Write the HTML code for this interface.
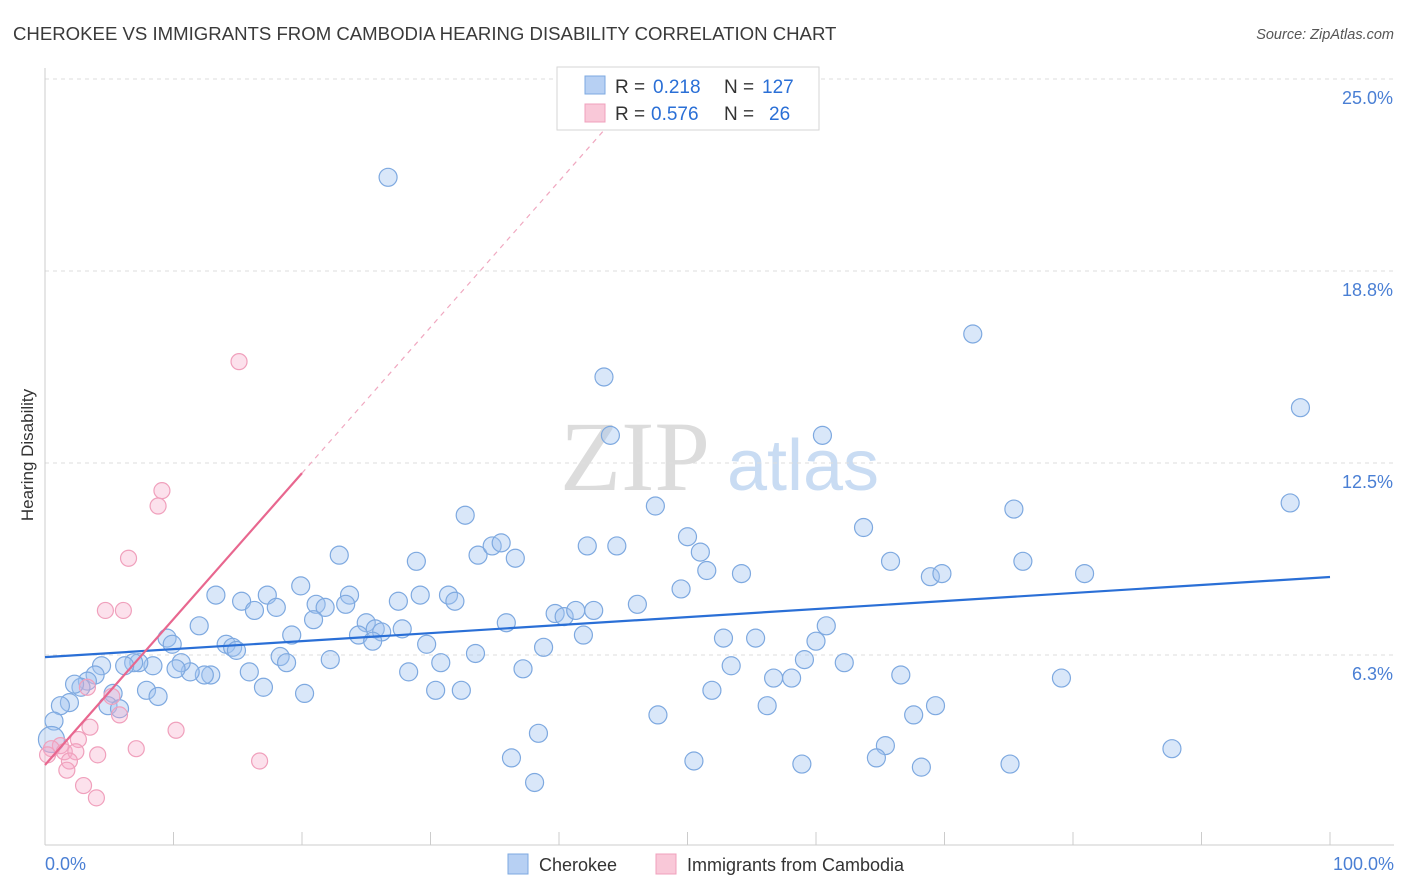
<!DOCTYPE html>
<html><head><meta charset="utf-8"><style>
body{margin:0;background:#fff;font-family:"Liberation Sans",sans-serif;}
svg{display:block}
</style></head><body>
<svg id="chart" width="1406" height="892" xmlns="http://www.w3.org/2000/svg">
<text x="13" y="40" font-size="18.6" fill="#3a3a3a">CHEROKEE VS IMMIGRANTS FROM CAMBODIA HEARING DISABILITY CORRELATION CHART</text>
<text x="1394" y="39" font-size="14.5" fill="#555" text-anchor="end" font-style="italic">Source: ZipAtlas.com</text>
<g>
<text x="635" y="490" font-size="100" fill="#dcdcdc" text-anchor="middle" font-family="Liberation Serif,serif">ZIP</text>
<text x="803" y="490" font-size="72" fill="#c9dcf3" text-anchor="middle">atlas</text>
</g>
<g id="grid"></g>
<g id="axes"></g>
<g id="marks"></g>
<text transform="translate(33,455) rotate(-90)" font-size="17" fill="#333" text-anchor="middle">Hearing Disability</text>
<g>
<rect x="557" y="67" width="262" height="63" fill="#fff" stroke="#d6d6d6"/>
<rect x="585" y="76" width="20" height="18" fill="#b7d0f3" stroke="#7ea9e0"/>
<text x="615" y="93" font-size="19" fill="#333">R =</text>
<text x="653" y="93" font-size="19" fill="#2a6fd6">0.218</text>
<text x="724" y="93" font-size="19" fill="#333">N =</text>
<text x="762" y="93" font-size="19" fill="#2a6fd6">127</text>
<rect x="585" y="104" width="20" height="18" fill="#f9c8d8" stroke="#f0a0bc"/>
<text x="615" y="120" font-size="19" fill="#333">R =</text>
<text x="651" y="120" font-size="19" fill="#2a6fd6">0.576</text>
<text x="724" y="120" font-size="19" fill="#333">N =</text>
<text x="769" y="120" font-size="19" fill="#2a6fd6">26</text>
</g>
<g>
<rect x="508" y="854" width="20" height="20" fill="#b7d0f3" stroke="#7ea9e0"/>
<text x="539" y="871" font-size="18" fill="#333">Cherokee</text>
<rect x="656" y="854" width="20" height="20" fill="#f9c8d8" stroke="#f0a0bc"/>
<text x="687" y="871" font-size="18" fill="#333">Immigrants from Cambodia</text>
</g>
</svg>
<script>
const yTicks=[6.3,12.5,18.8,25.0];
const yTickVals=[6.25,12.5,18.75,25];
const xLabels=["0.0%","100.0%"];
const blueX=[26.7,72.2,43.5,97.7,44.0,60.5,32.7,47.5,63.7,75.4,96.9,22.9,28.9,33.7,34.8,35.5,36.6,42.2,44.5,50.0,51.0,51.5,54.2,65.8,68.9,69.8,76.1,80.9,19.9,17.3,23.7,13.3,15.3,16.3,18.0,21.1,21.8,23.4,27.5,29.2,31.4,31.9,49.5,46.1,39.7,40.4,41.3,42.7,35.9,12.0,20.9,25.0,25.7,26.2,24.4,25.5,27.8,19.2,9.5,9.9,14.1,14.6,14.9,29.7,33.5,41.9,38.8,52.8,55.3,60.0,60.8,59.1,62.2,53.4,22.2,18.3,18.8,30.8,37.2,28.3,15.9,12.9,12.4,11.3,10.6,10.2,8.4,7.3,6.9,6.2,4.4,3.9,3.3,2.8,2.3,17.0,20.2,7.9,8.8,5.3,4.9,5.8,1.9,1.2,0.7,0.5,30.4,32.4,51.9,56.7,58.1,66.6,79.1,56.2,47.7,67.6,69.3,38.4,65.4,64.7,36.3,50.5,58.9,68.2,75.1,87.7,38.1];
const blueY=[21.8,16.7,15.3,14.3,13.4,13.4,10.8,11.1,10.4,11.0,11.2,9.5,9.3,9.5,9.8,9.9,9.4,9.8,9.8,10.1,9.6,9.0,8.9,9.3,8.8,8.9,9.3,8.9,8.5,8.2,8.2,8.2,8.0,7.7,7.8,7.9,7.8,7.9,8.0,8.2,8.2,8.0,8.4,7.9,7.6,7.5,7.7,7.7,7.3,7.2,7.4,7.3,7.1,7.0,6.9,6.7,7.1,6.9,6.8,6.6,6.6,6.5,6.4,6.6,6.3,6.9,6.5,6.8,6.8,6.7,7.2,6.1,6.0,5.9,6.1,6.2,6.0,6.0,5.8,5.7,5.7,5.6,5.6,5.7,6.0,5.8,5.9,6.0,6.0,5.9,5.9,5.6,5.4,5.2,5.3,5.2,5.0,5.1,4.9,5.0,4.6,4.5,4.7,4.6,4.1,3.5,5.1,5.1,5.1,5.5,5.5,5.6,5.5,4.6,4.3,4.3,4.6,3.7,3.3,2.9,2.9,2.8,2.7,2.6,2.7,3.2,2.1];
const pinkX=[15.1,9.1,8.8,6.5,4.7,6.1,3.3,5.2,5.8,10.2,3.5,2.6,7.1,4.1,1.2,0.5,1.5,2.4,1.9,1.7,16.7,3.0,4.0,0.2];
const pinkY=[15.8,11.6,11.1,9.4,7.7,7.7,5.2,4.9,4.3,3.8,3.9,3.5,3.2,3.0,3.3,3.2,3.1,3.1,2.8,2.5,2.8,2.0,1.6,3.0];
const blueTrend=[6.18,0.0261];
const pinkTrend=[2.67,0.475];
const NS="http://www.w3.org/2000/svg";
const X0=45,X1=1330,Y0=847,PPU=30.72;
function sx(v){return X0+(X1-X0)*v/100;}
function sy(v){return Y0-v*PPU;}
function mk(tag,attrs,parent){const e=document.createElementNS(NS,tag);for(const k in attrs)e.setAttribute(k,attrs[k]);parent.appendChild(e);return e;}
const grid=document.getElementById('grid'),axes=document.getElementById('axes'),marks=document.getElementById('marks');
yTickVals.forEach((v,i)=>{
  const l=mk('line',{x1:X0,x2:1394,y1:sy(v),y2:sy(v),stroke:'#dedede','stroke-dasharray':'4,4'},grid);
  
  
  const t=mk('text',{x:1393,y:sy(v)+25,'font-size':18,fill:'#4a7fd4','text-anchor':'end'},axes);
  t.textContent=yTicks[i].toFixed(1)+'%';
  
  
});
const ax=mk('line',{x1:X0,x2:1394,y1:845,y2:845,stroke:'#ccc'},axes);


const ay=mk('line',{x1:X0,x2:X0,y1:68,y2:845,stroke:'#ccc'},axes);


for(let i=0;i<=10;i++){
  const tk=mk('line',{x1:sx(i*10),x2:sx(i*10),y1:832,y2:845,stroke:'#ccc'},axes);
  
  
}
[[0,'start',45],[1,'end',1394]].forEach(([i,a,x])=>{
  const t=mk('text',{x:x,y:870,'font-size':18,fill:'#4a7fd4','text-anchor':a},axes);
  t.textContent=xLabels[i];
  
  
});
blueX.forEach((x,i)=>{
  const c=mk('circle',{cx:sx(x),cy:sy(blueY[i]),r:(i==105?13:9),fill:'rgba(160,195,240,0.4)',stroke:'#7ea9e0','stroke-width':1.2},marks);
  
  
});
pinkX.forEach((x,i)=>{
  const c=mk('circle',{cx:sx(x),cy:sy(pinkY[i]),r:8,fill:'rgba(245,170,200,0.35)',stroke:'#f0a0bc','stroke-width':1.2},marks);
  
  
});
const bl=mk('line',{x1:sx(0),y1:sy(blueTrend[0]),x2:sx(100),y2:sy(blueTrend[0]+blueTrend[1]*100),stroke:'#2a6fd6','stroke-width':2.2},marks);


const pl=mk('line',{x1:sx(0),y1:sy(pinkTrend[0]),x2:sx(20),y2:sy(pinkTrend[0]+pinkTrend[1]*20),stroke:'#e8678f','stroke-width':2.2},marks);


const pd=mk('line',{x1:sx(20),y1:sy(pinkTrend[0]+pinkTrend[1]*20),x2:sx(43.6),y2:sy(pinkTrend[0]+pinkTrend[1]*43.6),stroke:'#f0a8c0','stroke-width':1.2,'stroke-dasharray':'5,5'},marks);


</script>
</body></html>
